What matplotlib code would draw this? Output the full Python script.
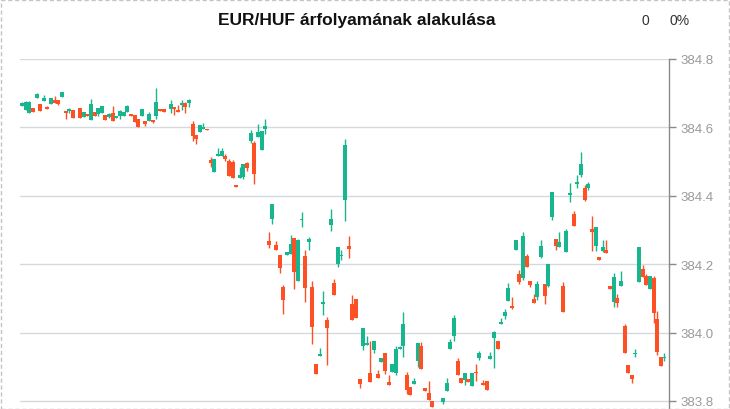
import matplotlib
matplotlib.use('Agg')
import matplotlib.pyplot as plt
from matplotlib.patches import Rectangle

plt.rcParams['font.family'] = ['Liberation Sans', 'DejaVu Sans']

title = 'EUR/HUF árfolyamának alakulása'
change_abs = '0'
change_pct = '0%'
y_ticks = [383.8, 384.0, 384.2, 384.4, 384.6, 384.8]

# time index (minutes) and OHLC values
t = [0, 1, 2, 3, 4, 5, 6, 7, 8, 9, 10, 11, 12, 13, 14, 16, 17, 18, 19, 20,
     21, 22, 23, 24, 25, 26, 27, 28, 29, 30, 31, 32, 33, 34, 35, 36, 37, 38, 39, 41,
     42, 43, 44, 45, 46, 47, 48, 49, 50, 51, 52, 53, 54, 55, 56, 57, 58, 59, 60, 61,
     62, 63, 64, 65, 66, 67, 68, 69, 70, 71, 72, 73, 74, 75, 76, 77, 78, 79, 80, 81,
     82, 83, 84, 85, 86, 87, 88, 89, 90, 91, 92, 93, 94, 95, 96, 97, 98, 99, 100, 101,
     102, 103, 104, 105, 106, 107, 108, 109, 110, 111, 112, 113, 116, 117, 118, 119, 120, 121, 122, 123,
     124, 125, 126, 127, 128, 129, 130, 131, 132, 133, 134, 135, 136, 137, 138, 139, 140, 141, 142, 143,
     144, 145, 146, 147, 148, 149, 150, 151, 152, 153, 154, 155, 156, 157, 158, 159, 160, 161, 162, 163,
     164, 165, 166, 167, 168, 169, 170, 171, 172, 173, 174, 175, 176, 177]

open_ = [384.663, 384.651, 384.642, 384.657, 384.686, 384.668, 384.677, 384.660, 384.668, 384.680,
         384.680, 384.689, 384.648, 384.648, 384.651, 384.657, 384.630, 384.639, 384.622, 384.645,
         384.639, 384.642, 384.636, 384.630, 384.642, 384.627, 384.633, 384.633, 384.645, 384.639,
         384.636, 384.625, 384.633, 384.619, 384.619, 384.622, 384.633, 384.654, 384.654, 384.654,
         384.660, 384.651, 384.665, 384.671, 384.671, 384.610, 384.578, 384.587, 384.595, 384.595,
         384.505, 384.470, 384.516, 384.516, 384.516, 384.502, 384.499, 384.432, 384.452, 384.455,
         384.496, 384.560, 384.554, 384.572, 384.534, 384.595, 384.268, 384.332, 384.256, 384.227,
         384.133, 384.227, 384.230, 384.277, 384.151, 384.329, 384.224, 384.265, 384.133, 383.908,
         383.932, 384.084, 384.037, 384.315, 384.145, 384.201, 384.224, 384.388, 384.253, 384.084,
         384.098, 383.864, 383.961, 383.964, 383.882, 383.949, 383.879, 383.914, 383.940, 383.856,
         383.885, 383.882, 383.952, 383.961, 383.876, 383.841, 383.850, 383.917, 383.961, 383.838,
         383.823, 383.800, 383.797, 383.829, 383.952, 383.990, 383.917, 383.867, 383.861, 383.864,
         383.844, 383.885, 383.926, 383.853, 383.858, 383.923, 383.984, 383.975, 384.025, 384.049,
         384.092, 384.078, 384.242, 384.171, 384.160, 384.224, 384.151, 384.098, 384.104, 384.221,
         384.142, 384.136, 384.338, 384.274, 384.250, 384.136, 384.236, 384.402, 384.347, 384.435,
         384.461, 384.423, 384.423, 384.303, 384.253, 384.221, 384.239, 384.242, 384.136, 384.089,
         384.101, 384.136, 384.019, 383.905, 383.876, 383.937, 384.148, 384.186, 384.165, 384.127,
         384.160, 384.040, 383.929, 383.926]

high = [384.674, 384.677, 384.677, 384.657, 384.701, 384.668, 384.695, 384.663, 384.686, 384.692,
        384.680, 384.704, 384.648, 384.657, 384.651, 384.657, 384.645, 384.639, 384.683, 384.645,
        384.657, 384.663, 384.636, 384.642, 384.663, 384.633, 384.651, 384.645, 384.665, 384.639,
        384.636, 384.625, 384.654, 384.619, 384.645, 384.622, 384.715, 384.654, 384.654, 384.680,
        384.660, 384.665, 384.680, 384.674, 384.683, 384.619, 384.578, 384.607, 384.613, 384.595,
        384.513, 384.508, 384.540, 384.540, 384.522, 384.508, 384.505, 384.432, 384.484, 384.493,
        384.499, 384.592, 384.560, 384.610, 384.589, 384.625, 384.294, 384.376, 384.268, 384.227,
        384.139, 384.236, 384.285, 384.277, 384.274, 384.353, 384.242, 384.280, 384.151, 383.908,
        383.955, 384.122, 384.046, 384.361, 384.157, 384.250, 384.242, 384.566, 384.282, 384.110,
        384.098, 383.864, 384.013, 383.990, 383.975, 383.975, 383.891, 383.926, 383.940, 383.876,
        383.908, 383.961, 383.961, 384.060, 383.885, 383.841, 383.867, 383.970, 383.972, 383.838,
        383.858, 383.800, 383.809, 383.867, 383.981, 384.051, 383.926, 383.867, 383.882, 383.864,
        383.882, 383.908, 383.946, 383.861, 383.858, 383.943, 384.005, 383.975, 384.043, 384.069,
        384.145, 384.104, 384.271, 384.183, 384.294, 384.230, 384.151, 384.113, 384.151, 384.271,
        384.142, 384.201, 384.411, 384.274, 384.294, 384.148, 384.303, 384.437, 384.356, 384.461,
        384.528, 384.432, 384.440, 384.341, 384.309, 384.221, 384.271, 384.271, 384.136, 384.174,
        384.113, 384.180, 384.025, 383.905, 383.876, 383.952, 384.250, 384.198, 384.171, 384.165,
        384.165, 384.063, 383.929, 383.940]

low = [384.663, 384.651, 384.642, 384.645, 384.686, 384.648, 384.677, 384.654, 384.668, 384.671,
       384.665, 384.689, 384.625, 384.642, 384.627, 384.627, 384.630, 384.633, 384.622, 384.633,
       384.633, 384.642, 384.622, 384.627, 384.619, 384.627, 384.625, 384.633, 384.645, 384.633,
       384.616, 384.601, 384.633, 384.604, 384.619, 384.613, 384.625, 384.648, 384.645, 384.642,
       384.636, 384.645, 384.651, 384.642, 384.660, 384.560, 384.551, 384.587, 384.595, 384.592,
       384.484, 384.470, 384.516, 384.516, 384.502, 384.458, 384.452, 384.426, 384.452, 384.449,
       384.473, 384.554, 384.435, 384.572, 384.534, 384.581, 384.247, 384.318, 384.242, 384.174,
       384.054, 384.227, 384.230, 384.127, 384.151, 384.309, 384.089, 384.242, 383.967, 383.879,
       383.932, 384.051, 383.905, 384.297, 384.110, 384.192, 384.212, 384.326, 384.218, 384.037,
       384.043, 383.838, 383.949, 383.964, 383.856, 383.940, 383.867, 383.914, 383.879, 383.847,
       383.885, 383.876, 383.952, 383.929, 383.820, 383.818, 383.850, 383.899, 383.894, 383.829,
       383.803, 383.782, 383.791, 383.829, 383.952, 383.975, 383.876, 383.853, 383.847, 383.856,
       383.844, 383.858, 383.920, 383.847, 383.832, 383.923, 383.896, 383.952, 384.025, 384.040,
       384.092, 384.069, 384.242, 384.142, 384.154, 384.192, 384.133, 384.087, 384.095, 384.218,
       384.084, 384.133, 384.329, 384.242, 384.250, 384.060, 384.236, 384.382, 384.312, 384.423,
       384.455, 384.385, 384.417, 384.239, 384.239, 384.212, 384.236, 384.233, 384.127, 384.075,
       384.075, 384.136, 383.940, 383.882, 383.853, 383.929, 384.148, 384.163, 384.139, 384.127,
       384.028, 383.935, 383.902, 383.917]

close = [384.671, 384.674, 384.674, 384.645, 384.698, 384.648, 384.686, 384.654, 384.686, 384.671,
         384.668, 384.704, 384.642, 384.654, 384.627, 384.627, 384.645, 384.633, 384.668, 384.633,
         384.657, 384.663, 384.622, 384.639, 384.619, 384.633, 384.648, 384.645, 384.663, 384.633,
         384.616, 384.601, 384.654, 384.610, 384.639, 384.616, 384.674, 384.648, 384.645, 384.668,
         384.654, 384.645, 384.671, 384.660, 384.680, 384.575, 384.566, 384.607, 384.601, 384.592,
         384.496, 384.508, 384.522, 384.531, 384.508, 384.458, 384.452, 384.426, 384.461, 384.493,
         384.481, 384.584, 384.464, 384.587, 384.589, 384.604, 384.256, 384.376, 384.242, 384.189,
         384.095, 384.236, 384.259, 384.177, 384.271, 384.332, 384.130, 384.274, 384.016, 383.879,
         383.937, 384.089, 384.013, 384.332, 384.110, 384.250, 384.227, 384.549, 384.244, 384.037,
         384.043, 383.850, 384.013, 383.970, 383.856, 383.975, 383.867, 383.926, 383.888, 383.847,
         383.908, 383.952, 383.958, 384.025, 383.832, 383.818, 383.858, 383.970, 383.894, 383.829,
         383.803, 383.782, 383.809, 383.853, 383.972, 384.043, 383.876, 383.853, 383.882, 383.856,
         383.882, 383.882, 383.940, 383.847, 383.832, 383.932, 384.002, 383.952, 384.031, 384.060,
         384.130, 384.072, 384.271, 384.148, 384.282, 384.192, 384.139, 384.087, 384.142, 384.253,
         384.107, 384.201, 384.411, 384.253, 384.265, 384.060, 384.297, 384.408, 384.312, 384.440,
         384.493, 384.388, 384.435, 384.294, 384.309, 384.212, 384.250, 384.233, 384.127, 384.163,
         384.087, 384.151, 383.940, 383.882, 383.864, 383.940, 384.250, 384.163, 384.139, 384.165,
         384.057, 383.943, 383.902, 383.929]

UP = '#17b68e'
DOWN = '#fd5024'

W, H = 730, 410
fig = plt.figure(figsize=(W / 100, H / 100), dpi=100)
ax = fig.add_axes([20 / W, 0, (669 - 20) / W, 350 / H])

for ti, o, hi, lo, c in zip(t, open_, high, low, close):
    col = UP if c >= o else DOWN
    ax.vlines(ti, lo, hi, color=col, lw=1.0, zorder=2)
    bot = min(o, c)
    ht = max(abs(c - o), 0.0025)
    ax.bar(ti, ht, bottom=bot, width=1.1, color=col, lw=0, zorder=3)

ax.set_xlim(-0.55, 178.24)
ax.set_ylim(383.7766, 384.8)
ax.set_xticks([])
ax.yaxis.tick_right()
ax.set_yticks(y_ticks)
ax.set_yticklabels([f'{v:.1f}' for v in y_ticks])
ax.tick_params(axis='y', length=5, width=1, color='#8a8a8a', labelcolor='#9a9a9a',
               labelsize=9.5, pad=3)
ax.yaxis.grid(True, color='#d6d9dc', lw=1, zorder=0)
ax.set_axisbelow(True)
for s in ['left', 'top', 'bottom']:
    ax.spines[s].set_visible(False)
ax.spines['right'].set_color('#8a8a8a')
ax.spines['right'].set_linewidth(1)

fig.text(357 / W, 1 - 21 / H, title, ha='center', va='center',
         fontsize=12.5, fontweight='bold', color='#111111')
fig.text(645 / W, 1 - 21 / H, change_abs, ha='center', va='center',
         fontsize=10, color='#333333')
fig.text(680 / W, 1 - 21 / H, change_pct, ha='center', va='center',
         fontsize=10, color='#333333')

fig.patches.append(Rectangle((0.5 / W, 0.5 / H), 1 - 1.5 / W, 1 - 1.5 / H,
                             transform=fig.transFigure, fill=False,
                             ls=(0, (3, 2)), ec='#c4c4c4', lw=1))

fig.savefig('out.png', dpi=100)
